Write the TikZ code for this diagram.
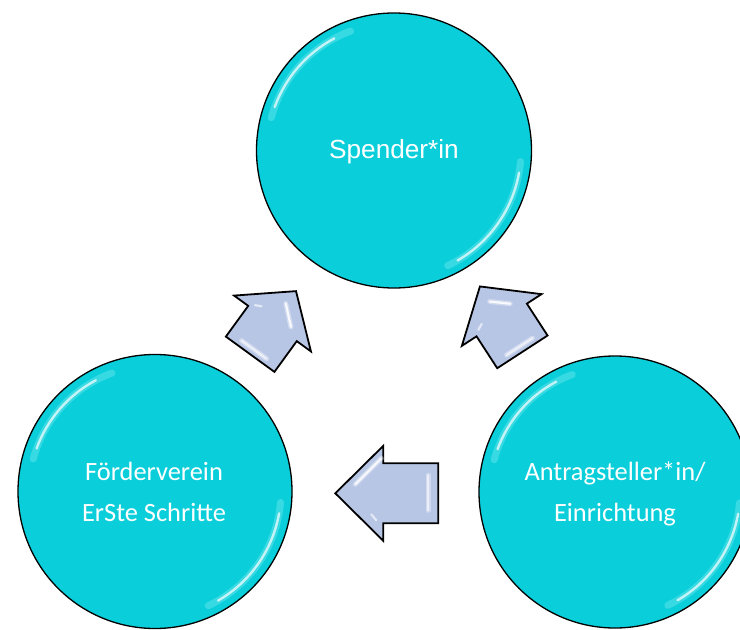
\documentclass[tikz,border=0pt]{standalone}
\usepackage{fontspec}
\newfontfamily\calib{Carlito}
\newfontfamily\arialf{Liberation Sans}
\definecolor{cyanfill}{RGB}{10,207,218}
\definecolor{cyanlight}{RGB}{140,236,242}
\definecolor{arrowfill}{RGB}{184,198,230}
\begin{document}
\begin{tikzpicture}[x=1bp,y=-1bp,
  bubble/.style={circle, draw=black, line width=1.3bp, fill=cyanfill, minimum size=#1, inner sep=0pt},
  lbl/.style={text=white, anchor=base, inner sep=0pt, font=\calib\fontsize{26.5}{30}\selectfont},
  lbltop/.style={text=white, anchor=base, inner sep=0pt, font=\arialf\fontsize{26.3}{30}\selectfont},
  arrowbody/.style={draw=black, line width=1.8bp, fill=arrowfill, line join=miter},
  shinesoft/.style={draw=white, line width=5bp, opacity=0.35, line cap=round},
  shine/.style={draw=white, line width=2.2bp, opacity=0.85, line cap=round},
  rimsoft/.style={draw=cyanlight, line width=7bp, opacity=0.35, line cap=round},
  rim/.style={draw=white, line width=2.4bp, opacity=0.7, line cap=round}]
\useasboundingbox (0,0) rectangle (740,630);
\fill[white] (0,0) rectangle (740,630);
\clip (0,0) rectangle (740,630);

% circles
\node[bubble=275bp] (top) at (394,150.5) {};
\node[bubble=274bp] (left) at (155,491.5) {};
\node[bubble=272bp] (right) at (615,492) {};

% glossy rims
\foreach \c/\r in {top/127, left/126, right/125}{
  \draw[rimsoft] ([shift={(195:\r)}]\c.center) arc[start angle=195, end angle=250, radius=\r];
  \draw[rim] ([shift={(200:\r)}]\c.center) arc[start angle=200, end angle=242, radius=\r];
  \draw[rimsoft] ([shift={(5:\r)}]\c.center) arc[start angle=5, end angle=65, radius=\r];
  \draw[rim] ([shift={(10:\r)}]\c.center) arc[start angle=10, end angle=60, radius=\r];
}

% arrows
\begin{scope}[shift={(272.5,323.5)}, rotate=54]
  \path[arrowbody] (-38,-30) -- (0,-30) -- (0,-47.5) -- (40,0) -- (0,47.5) -- (0,30) -- (-38,30) -- cycle;
  \draw[shinesoft] (24,-1) -- (8,17);
  \draw[shine] (24,-1) -- (8,17);
  \draw[shine, opacity=0.6] (4.5,-25) -- (7.5,-19);
  \draw[shinesoft] (-32,-15) -- (-32,16);
  \draw[shine, opacity=0.6] (-32,-15) -- (-32,16);
\end{scope}
\begin{scope}[shift={(501.7,320)}, rotate=123]
  \path[arrowbody] (-38,-30) -- (0,-30) -- (0,-47.5) -- (40,0) -- (0,47.5) -- (0,30) -- (-38,30) -- cycle;
  \draw[shinesoft] (22,0) -- (9,16);
  \draw[shine] (22,0) -- (9,16);
  \draw[shine, opacity=0.6] (4.5,-25) -- (7.5,-19);
  \draw[shinesoft] (-32,-15) -- (-32,16);
  \draw[shine, opacity=0.6] (-32,-15) -- (-32,16);
\end{scope}
\begin{scope}[shift={(383.3,493.3)}, rotate=180]
  \path[arrowbody] (-55,-30) -- (0,-30) -- (0,-47.5) -- (48,0) -- (0,47.5) -- (0,30) -- (-55,30) -- cycle;
  \draw[shinesoft] (2,35) -- (28,9);
  \draw[shine] (2,35) -- (28,9);
  \draw[shine, opacity=0.6] (7,-27) -- (12,-21);
  \draw[shinesoft] (-45,-17) -- (-45,18);
  \draw[shine, opacity=0.6] (-45,-17) -- (-45,18);
\end{scope}

% labels
\node[lbltop] (toplbl) at (394,159) {Spender*in};
\node[lbl] (leftlblA) at (154,480.7) {Förderverein};
\node[lbl] (leftlblB) at (154,521.7) {ErSte Schritte};
\node[lbl] (rightlblA) at (615,480.7) {Antragsteller*in/};
\node[lbl] (rightlblB) at (615,521.7) {Einrichtung};
\end{tikzpicture}
\end{document}
